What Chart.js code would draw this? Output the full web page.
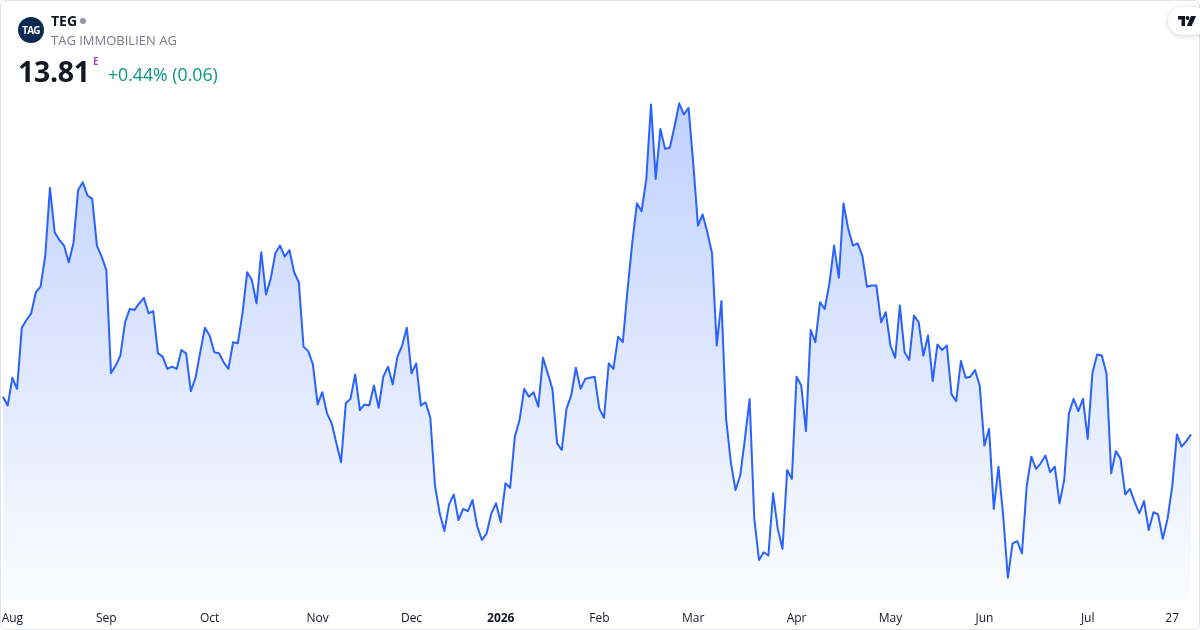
<!DOCTYPE html>
<html>
<head>
<meta charset="utf-8">
<script src="https://cdn.jsdelivr.net/npm/chart.js@4.4.1/dist/chart.umd.min.js"></script>
<style>
  html, body { margin: 0; padding: 0; background: #fff; }
  body { width: 1200px; height: 630px; position: relative; overflow: hidden; font-family: 'Open Sans', sans-serif; }
  #frame { position: absolute; left: 0; top: 0; width: 1198px; height: 628px; border: 1px solid #e0e3eb; border-radius: 6px; }
  canvas { position: absolute; left: 0; top: 0; }
  .logo { position: absolute; left: 18px; top: 17px; width: 26px; height: 26px; border-radius: 50%; background: #0c2951; color: #fff; font: bold 10px 'Open Sans', sans-serif; letter-spacing: -0.8px; line-height: 26px; text-align: center; }
  .ticker { position: absolute; left: 51px; top: 11px; font-size: 14px; font-weight: 700; color: #131722; }
  .dot { display: inline-block; width: 6px; height: 6px; border-radius: 50%; background: #9598a1; margin-left: 3px; vertical-align: 2px; }
  .name { position: absolute; left: 51px; top: 31px; font-size: 13px; color: #787b86; }
  .price { position: absolute; left: 18px; top: 52px; font-size: 28.5px; font-weight: 700; color: #131722; letter-spacing: -0.3px; }
  .flag { position: absolute; left: 93px; top: 54px; font-size: 10px; font-weight: 700; color: #ab47bc; }
  .change { position: absolute; left: 108px; top: 62px; font-size: 17.7px; color: #089981; }
  .tv { position: absolute; left: 1168px; top: 7px; width: 40px; height: 28px; border-radius: 14px; background: #fff; box-shadow: 0 1px 5px rgba(0,0,0,0.18); }
  .tv svg { position: absolute; left: 10px; top: 9px; }
</style>
</head>
<body>
<div id="frame"></div>
<canvas id="chart" width="1200" height="630"></canvas>
<div class="logo">TAG</div>
<div class="ticker">TEG<span class="dot"></span></div>
<div class="name">TAG IMMOBILIEN AG</div>
<div class="price">13.81</div>
<div class="flag">E</div>
<div class="change">+0.44% (0.06)</div>
<div class="tv">
  <svg width="18" height="10" viewBox="0 0 18 10">
    <path d="M0 0h7v10H3.5V3.5H0z" fill="#131722"/>
    <circle cx="9.5" cy="2" r="2" fill="#131722"/>
    <path d="M13 0h5l-4.3 10H8.8z" fill="#131722"/>
  </svg>
</div>
<script>
// daily closes, one per trading day (first Aug 2025 week to Jul 2026)
const closes = [
  14.15, 14.07, 14.32, 14.22, 14.77, 14.84, 14.90, 15.09, 15.14, 15.42,
  16.03, 15.63, 15.56, 15.51, 15.36, 15.53, 16.01, 16.08, 15.96, 15.93,
  15.51, 15.41, 15.29, 14.36, 14.43, 14.52, 14.82, 14.94, 14.93, 14.99,
  15.04, 14.90, 14.92, 14.54, 14.51, 14.40, 14.42, 14.40, 14.57, 14.54,
  14.20, 14.32, 14.55, 14.77, 14.70, 14.55, 14.54, 14.46, 14.40, 14.64,
  14.63, 14.90, 15.27, 15.20, 14.99, 15.45, 15.07, 15.21, 15.44, 15.51,
  15.41, 15.47, 15.27, 15.18, 14.60, 14.56, 14.44, 14.08, 14.19, 14.00,
  13.91, 13.73, 13.56, 14.09, 14.13, 14.35, 14.03, 14.08, 14.07, 14.25,
  14.05, 14.33, 14.42, 14.26, 14.51, 14.61, 14.77, 14.36, 14.45, 14.07,
  14.10, 13.96, 13.35, 13.10, 12.94, 13.18, 13.27, 13.04, 13.14, 13.12,
  13.22, 12.98, 12.86, 12.92, 13.10, 13.19, 13.02, 13.37, 13.33, 13.79,
  13.94, 14.22, 14.15, 14.19, 14.06, 14.50, 14.36, 14.22, 13.73, 13.67,
  14.04, 14.16, 14.41, 14.22, 14.31, 14.32, 14.33, 14.04, 13.96, 14.45,
  14.40, 14.69, 14.64, 15.11, 15.53, 15.89, 15.82, 16.11, 16.78, 16.11,
  16.56, 16.38, 16.39, 16.58, 16.79, 16.69, 16.75, 16.25, 15.69, 15.79,
  15.63, 15.44, 14.61, 15.01, 13.95, 13.56, 13.31, 13.44, 13.77, 14.13,
  13.05, 12.68, 12.75, 12.72, 13.28, 12.96, 12.78, 13.49, 13.41, 14.33,
  14.25, 13.84, 14.75, 14.64, 15.00, 14.94, 15.17, 15.51, 15.22, 15.89,
  15.66, 15.51, 15.53, 15.42, 15.14, 15.15, 15.15, 14.82, 14.91, 14.61,
  14.50, 14.97, 14.55, 14.48, 14.88, 14.82, 14.52, 14.70, 14.29, 14.62,
  14.57, 14.61, 14.17, 14.11, 14.47, 14.32, 14.33, 14.39, 14.25, 13.71,
  13.86, 13.14, 13.52, 13.08, 12.52, 12.83, 12.85, 12.74, 13.34, 13.61,
  13.50, 13.55, 13.62, 13.47, 13.52, 13.19, 13.40, 14.00, 14.13, 14.02,
  14.13, 13.77, 14.36, 14.53, 14.52, 14.36, 13.46, 13.66, 13.59, 13.27,
  13.32, 13.20, 13.10, 13.21, 12.95, 13.11, 13.09, 12.87, 13.05, 13.34,
  13.81, 13.70, 13.75, 13.81
];

// x axis labels and the trading-day index they sit on
const tickNames = ['Aug', 'Sep', 'Oct', 'Nov', 'Dec', '2026', 'Feb', 'Mar', 'Apr', 'May', 'Jun', 'Jul', '27'];
const tickIndex = [2, 22, 44, 67, 87, 106, 127, 147, 169, 189, 209, 231, 249];

const labels = closes.map((c, i) => {
  const k = tickIndex.indexOf(i);
  return k >= 0 ? tickNames[k] : '';
});

const ctx = document.getElementById('chart').getContext('2d');

new Chart(ctx, {
  type: 'line',
  data: {
    labels: labels,
    datasets: [{
      data: closes,
      borderColor: '#2962ff',
      borderWidth: 2,
      borderJoinStyle: 'round',
      pointRadius: 0,
      tension: 0,
      fill: 'start',
      backgroundColor: (c) => {
        const area = c.chart.chartArea;
        if (!area) return 'rgba(41,98,255,0.1)';
        const g = c.chart.ctx.createLinearGradient(0, area.top, 0, area.bottom);
        g.addColorStop(0, 'rgba(41,98,255,0.30)');
        g.addColorStop(1, 'rgba(41,98,255,0.02)');
        return g;
      },
    }],
  },
  options: {
    responsive: false,
    animation: false,
    layout: { padding: { left: 3, right: 9, top: 90, bottom: 0 } },
    scales: {
      x: {
        grid: { display: false, drawTicks: false },
        border: { display: false },
        afterBuildTicks: (scale) => {
          scale.ticks = tickIndex.map((i) => ({ value: i }));
        },
        // keep the plot flush with the left edge and a fixed label strip below
        afterFit: (scale) => {
          scale.paddingLeft = 0;
          scale.paddingRight = 0;
          scale.height = 30;
        },
        ticks: {
          autoSkip: false,
          maxRotation: 0,
          padding: 11,
          color: '#131722',
          font: (c) => ({
            family: 'Open Sans',
            size: 12,
            weight: c.tick && c.tick.label === '2026' ? 'bold' : 'normal',
          }),
        },
      },
      y: { display: false, min: 12.32, max: 16.91 },
    },
    plugins: {
      legend: false,
      tooltip: { enabled: false },
    },
  },
});
</script>
</body>
</html>
